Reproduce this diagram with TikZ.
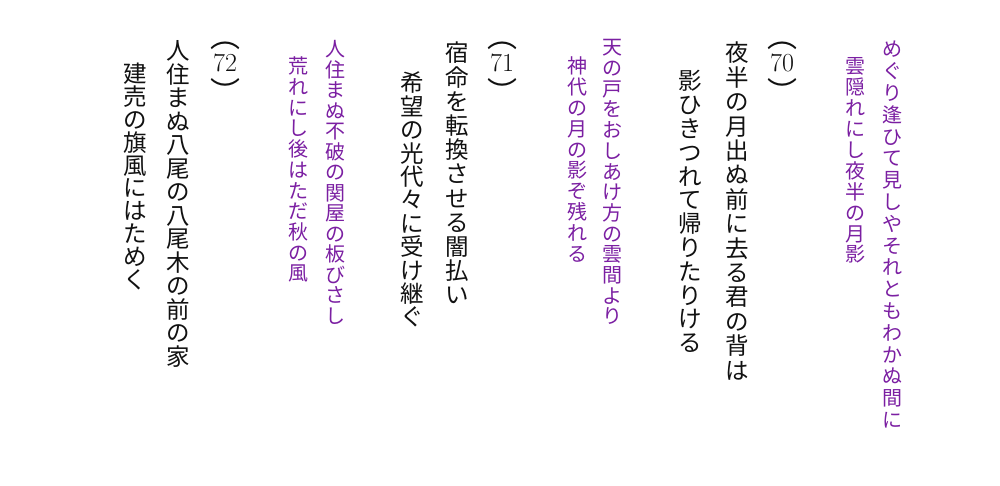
\documentclass[tikz,border=0pt]{standalone}
\usepackage{fontspec}
\newfontfamily\cjk{Noto Sans CJK JP}
\definecolor{pcol}{HTML}{7B1FA2}
\definecolor{kcol}{HTML}{111111}
\def\vcolloop#1{\ifx#1\relax\else\hbox to 1em{\hss\vrule height .88em depth .12em width 0pt #1\hss}\expandafter\vcolloop\fi}
\newcommand\vcol[2]{\vbox{\baselineskip=#1pt\lineskiplimit=-1000pt\lineskip=0pt\vcolloop#2\relax}}
\newcommand\numlab[1]{\vbox{\offinterlineskip
  \hbox to 30pt{\hss{\cjk\fontsize{30}{30}\selectfont ︵}\hss}\kern 4pt
  \hbox to 30pt{\hss{\fontsize{26}{26}\selectfont #1}\hss}\kern 6pt
  \hbox to 30pt{\hss{\cjk\fontsize{30}{30}\selectfont ︶}\hss}}}
\tikzset{
  purp/.style={font={\cjk\fontsize{20}{20}\selectfont}, text=pcol, inner sep=0pt, anchor=north},
  blk/.style={font={\cjk\fontsize{23.5}{23.5}\selectfont}, text=kcol, inner sep=0pt, anchor=north},
  numlbl/.style={text=kcol, inner sep=0pt, anchor=north}
}
\begin{document}
\begin{tikzpicture}[x=1pt,y=-1pt]
\useasboundingbox (0,0) rectangle (1000,485);
% poem 70 (original)
\node[purp] (a1) at (892,39) {\vcol{21.8}{めぐり逢ひて見しやそれともわかぬ間に}};
\node[purp] (a2) at (855,56) {\vcol{20.9}{雲隠れにし夜半の月影}};
\node[numlbl] (n70) at (782,42) {\numlab{70}};
\node[blk] (b1) at (737,41) {\vcol{24.4}{夜半の月出ぬ前に去る君の背は}};
\node[blk] (b2) at (690,69) {\vcol{23.8}{影ひきつれて帰りたりける}};
% poem 71
\node[purp] (a3) at (612,37) {\vcol{20.7}{天の戸をおしあけ方の雲間より}};
\node[purp] (a4) at (577,56) {\vcol{20.8}{神代の月の影ぞ残れる}};
\node[numlbl] (n71) at (502,42) {\numlab{71}};
\node[blk] (b3) at (457,41) {\vcol{24.2}{宿命を転換させる闇払い}};
\node[blk] (b4) at (412,71) {\vcol{23.4}{希望の光代々に受け継ぐ}};
% poem 72
\node[purp] (a5) at (335,39) {\vcol{20.5}{人住まぬ不破の関屋の板びさし}};
\node[purp] (a6) at (298,56) {\vcol{20.7}{荒れにし後はただ秋の風}};
\node[numlbl] (n72) at (225,42) {\numlab{72}};
\node[blk] (b5) at (178,39) {\vcol{23.5}{人住まぬ八尾の八尾木の前の家}};
\node[blk] (b6) at (135,62) {\vcol{22.8}{建売の旗風にはためく}};
\end{tikzpicture}
\end{document}
